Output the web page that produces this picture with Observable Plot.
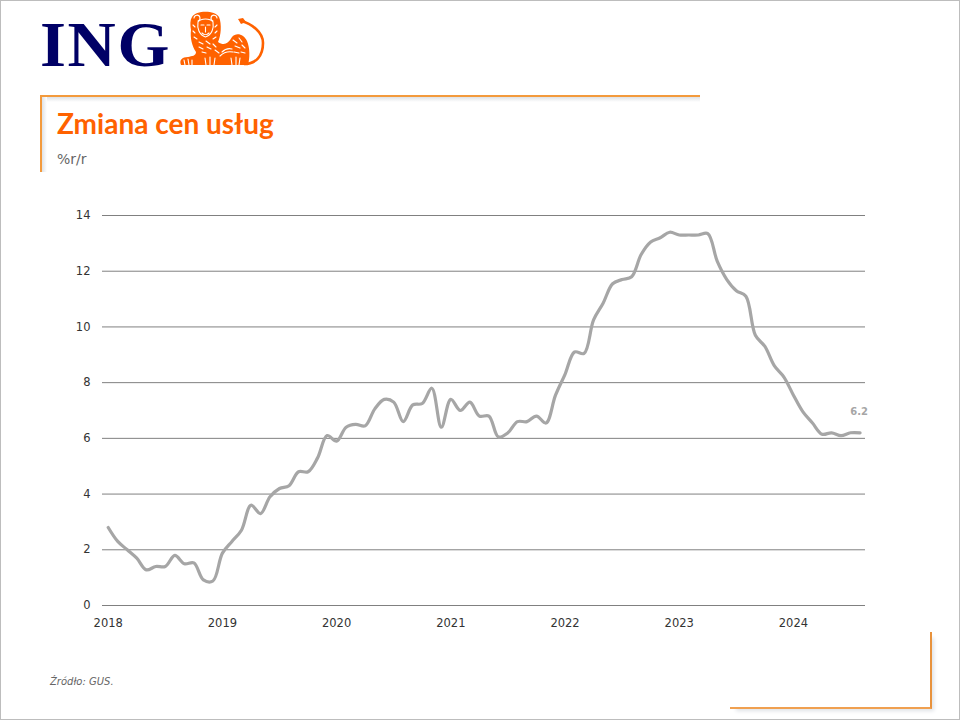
<!DOCTYPE html>
<html lang="pl">
<head>
<meta charset="utf-8">
<script src="https://cdn.jsdelivr.net/npm/d3@7"></script>
<script src="https://cdn.jsdelivr.net/npm/@observablehq/plot@0.6"></script>
<style>
html,body{margin:0;padding:0;background:#fff;}
#page{position:relative;width:960px;height:720px;overflow:hidden;background:#fff;}
#frame{position:absolute;left:0;top:0;width:958px;height:718px;border:1px solid #bdbdbd;}
#ing{position:absolute;left:40px;top:9px;font:bold 63px/72px "Liberation Serif",serif;color:#000066;letter-spacing:1.5px;transform:scaleX(1.06);transform-origin:left center;}
#lion{position:absolute;left:178px;top:8px;width:90px;height:60px;}
#tlshadow1{position:absolute;left:42px;top:97px;width:658px;height:5px;background:linear-gradient(#dfe2e6,#fff);}
#tlshadow2{position:absolute;left:42px;top:97px;width:5px;height:75px;background:linear-gradient(90deg,#dfe2e6,#fff);}
#tl{position:absolute;left:40px;top:95px;width:658px;height:75px;border-top:2px solid #f39a3c;border-left:2px solid #f39a3c;}
#br{position:absolute;left:730px;top:632px;width:200px;height:75px;border-right:2px solid #e8923c;border-bottom:2px solid #f0a050;box-shadow:4px 4px 4px -2px #dfe2e6;clip-path:inset(0 -8px -8px 0);}
#title{position:absolute;left:57px;top:106px;font:bold 28px/34px Lato,sans-serif;color:#ff6200;}
#sub{position:absolute;left:57px;top:150px;font:14px/18px "DejaVu Sans",sans-serif;color:#666;}
#src{position:absolute;left:50px;top:675px;font:italic 10px/14px "DejaVu Sans",sans-serif;color:#666;}
#chart{position:absolute;left:0;top:190px;}
</style>
</head>
<body>
<div id="page">
  <div id="frame"></div>
  <div id="ing">ING</div>
  <svg id="lion" viewBox="178 8 90 60" aria-hidden="true">
    <g fill="#ff6200">
      <path d="M192 17C196 10 215 10 219 17C222 24 221 36 218 42C224 46 228 44 232 37C236 32 244 34 247 41C250 48 250 58 248 65L181 65C179 60 182 57 188 57C192 56 196 56 196 52C192 46 190 38 191 30C190 25 190 20 192 17Z"/>
      <path d="M238 19L243 18L246 22L241 24Z"/>
    </g>
    <path d="M241 21C252 24 263 32 263 43C263 56 256 64 244 64" fill="none" stroke="#ff6200" stroke-width="2.6"/>
    <g fill="none" stroke="#fff" stroke-width="1.1" stroke-linecap="round">
      <path d="M198 22C201 18 210 18 213 22C214 28 212 35 205.500 37C199 35 197 28 198 22Z"/>
      <path d="M194 18a3 3 0 1 1 4 3M217 18a3 3 0 1 0 -4 3"/>
      <path d="M201 25h3M207 25h3M205.500 27v5M202 33c2 2 5 2 7 0"/>
      <path d="M193 25l2 2M193 31l2 2M194 37l3 2M217 25l-2 2M217 31l-2 2M216 37l-3 2"/>
      <path d="M199 42l4 2M206 41l4 3M199 47l4 2M207 47l4 2M213 44l3 3M215 50l4 3M202 52l4 1"/>
      <path d="M233 40l4 3M239 38l3 4M235 46l5 2M242 45l3 3M234 52l5 1M241 52l4 1"/>
      <path d="M222 52c3-3 6-4 10-3M220 56c4-4 8-5 13-4"/>
      <path d="M184 60l1 5M188 59l1 6M192 60l0 5M205 58l1 7M210 57l0 8M215 58l-1 7M231 58l1 7M236 57l0 8M240 58l-1 7"/>
    </g>
  </svg>
  <div id="tlshadow1"></div>
  <div id="tlshadow2"></div>
  <div id="tl"></div>
  <div id="br"></div>
  <div id="title">Zmiana cen usług</div>
  <div id="sub">%r/r</div>
  <div id="chart"></div>
  <div id="src">Źródło: GUS.</div>
</div>
<script>
const startYear = 2018;
const yTicks = [0, 2, 4, 6, 8, 10, 12, 14];
const xTicks = [2018, 2019, 2020, 2021, 2022, 2023, 2024];
const values2018 = [2.8, 2.3, 2.0, 1.7, 1.28, 1.4, 1.4, 1.8, 1.5, 1.53, 0.92, 0.88];
const values2019 = [1.88, 2.3, 2.7, 3.6, 3.3, 3.9, 4.2, 4.3, 4.8, 4.8, 5.3, 6.1];
const values2020 = [5.9, 6.4, 6.5, 6.45, 7.05, 7.4, 7.3, 6.6, 7.2, 7.25, 7.8, 6.4];
const values2021 = [7.4, 7.0, 7.3, 6.8, 6.8, 6.05, 6.2, 6.6, 6.6, 6.8, 6.55, 7.55];
const values2022 = [8.3, 9.1, 9.05, 10.25, 10.85, 11.55, 11.7, 11.8, 12.6, 13.05, 13.2, 13.4];
const values2023 = [13.3, 13.3, 13.3, 13.35, 12.35, 11.7, 11.3, 11.1, 9.7, 9.3, 8.6, 8.2];
const values2024 = [7.55, 6.95, 6.55, 6.15, 6.2, 6.1, 6.2, 6.2];

const series = [values2018, values2019, values2020, values2021, values2022, values2023, values2024]
  .flatMap((vals, y) => vals.map((v, m) => ({t: startYear + y + m / 12, v})));
const last = series[series.length - 1];

const plot = Plot.plot({
  width: 960,
  height: 440,
  marginTop: 25,
  marginBottom: 25,
  marginLeft: 102,
  marginRight: 95,
  style: {background: "transparent", fontFamily: "'DejaVu Sans', sans-serif", fontSize: "11.500px", color: "#333"},
  x: {domain: [2017.95, 2024.631], label: null, ticks: xTicks, tickFormat: d => String(d), tickSize: 0, tickPadding: 13},
  y: {domain: [0, 14], label: null, ticks: yTicks, tickSize: 0, tickPadding: 12},
  marks: [
    Plot.ruleY(yTicks, {stroke: "#808080", strokeWidth: 1}),
    Plot.line(series, {x: "t", y: "v", stroke: "#a6a6a6", strokeWidth: 3.2, curve: "catmull-rom"}),
    Plot.text([last], {x: "t", y: "v", text: d => d.v.toFixed(1), dy: -21, dx: -1, fill: "#a6a6a6", fontWeight: "bold", fontSize: 10})
  ]
});
document.getElementById("chart").appendChild(plot);
</script>
</body>
</html>
